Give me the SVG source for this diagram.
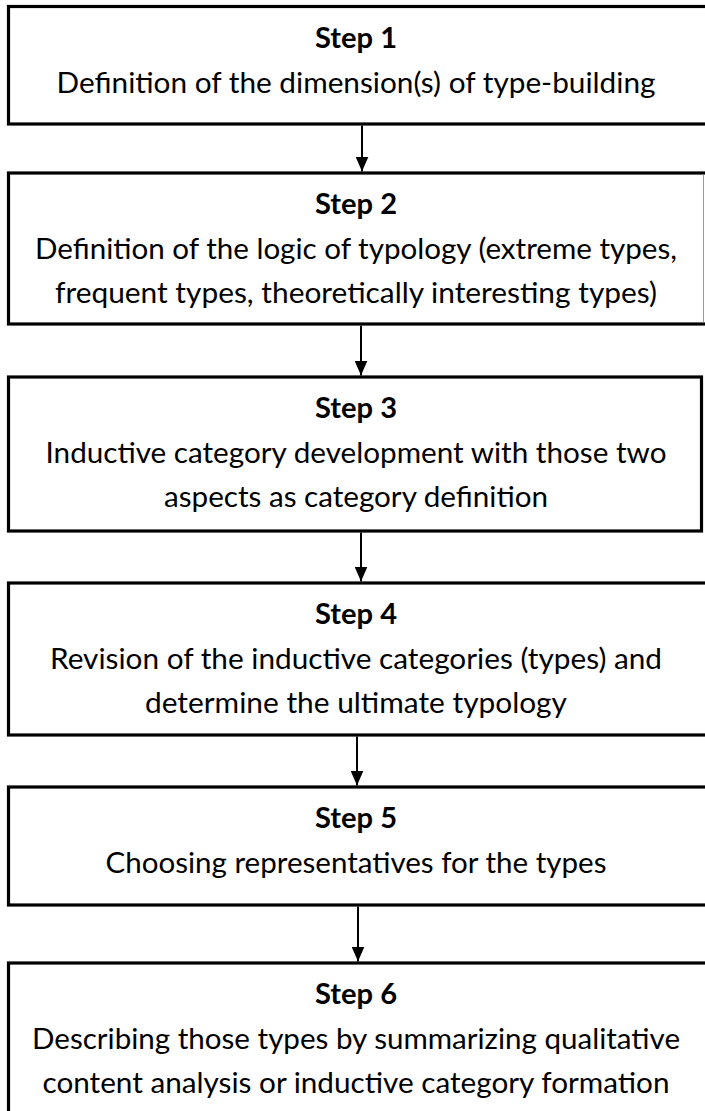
<svg xmlns="http://www.w3.org/2000/svg" width="705" height="1111" viewBox="0 0 705 1111">
  <style>
    .box { fill: #ffffff; stroke: #000000; stroke-width: 3.2; }
    .t { font-family: Lato, "Open Sans", "Liberation Sans", sans-serif; font-size: 29px; fill: #000000; text-anchor: middle; }
    .h { font-weight: bold; }
    .conn { stroke: #000000; stroke-width: 2; fill: none; }
  </style>
  <defs>
    <marker id="arrow" markerUnits="userSpaceOnUse" markerWidth="15" markerHeight="13" refX="15" refY="6.5" orient="auto">
      <path d="M0,0 L15,6.5 L0,13 z" fill="#000000"/>
    </marker>
  </defs>
  <rect width="705" height="1111" fill="#ffffff"/>

  <g id="step1">
    <rect class="box" x="8.5" y="6.5" width="710" height="117.5"/>
    <text class="t h" x="356" y="47.5" textLength="82" lengthAdjust="spacingAndGlyphs">Step 1</text>
    <text class="t" x="356" y="92.5" textLength="599" lengthAdjust="spacingAndGlyphs">Definition of the dimension(s) of type-building</text>
  </g>

  <g id="step2">
    <rect class="box" x="8.5" y="173" width="710" height="151"/>
    <line x1="703.5" y1="174.5" x2="703.5" y2="322.5" stroke="#9a9a9a" stroke-width="1"/>
    <text class="t h" x="356" y="214" textLength="82" lengthAdjust="spacingAndGlyphs">Step 2</text>
    <text class="t" x="356" y="259" textLength="642" lengthAdjust="spacingAndGlyphs">Definition of the logic of typology (extreme types,</text>
    <text class="t" x="356" y="303" textLength="602" lengthAdjust="spacingAndGlyphs">frequent types, theoretically interesting types)</text>
  </g>

  <g id="step3">
    <rect class="box" x="8.5" y="377" width="693" height="154"/>
    <text class="t h" x="356" y="418" textLength="82" lengthAdjust="spacingAndGlyphs">Step 3</text>
    <text class="t" x="356" y="463" textLength="621" lengthAdjust="spacingAndGlyphs">Inductive category development with those two</text>
    <text class="t" x="356" y="507" textLength="384" lengthAdjust="spacingAndGlyphs">aspects as category definition</text>
  </g>

  <g id="step4">
    <rect class="box" x="8.5" y="583" width="710" height="152"/>
    <text class="t h" x="356" y="624" textLength="82" lengthAdjust="spacingAndGlyphs">Step 4</text>
    <text class="t" x="356" y="669" textLength="612" lengthAdjust="spacingAndGlyphs">Revision of the inductive categories (types) and</text>
    <text class="t" x="356" y="713" textLength="422" lengthAdjust="spacingAndGlyphs">determine the ultimate typology</text>
  </g>

  <g id="step5">
    <rect class="box" x="8.5" y="787" width="710" height="118"/>
    <text class="t h" x="356" y="828" textLength="82" lengthAdjust="spacingAndGlyphs">Step 5</text>
    <text class="t" x="356" y="873" textLength="501" lengthAdjust="spacingAndGlyphs">Choosing representatives for the types</text>
  </g>

  <g id="step6">
    <rect class="box" x="8.5" y="963" width="710" height="160"/>
    <text class="t h" x="356" y="1004" textLength="82" lengthAdjust="spacingAndGlyphs">Step 6</text>
    <text class="t" x="356" y="1049" textLength="648" lengthAdjust="spacingAndGlyphs">Describing those types by summarizing qualitative</text>
    <text class="t" x="356" y="1093" textLength="627" lengthAdjust="spacingAndGlyphs">content analysis or inductive category formation</text>
  </g>

  <g id="connectors">
    <line class="conn" x1="362" y1="125.5" x2="362" y2="171.5" marker-end="url(#arrow)"/>
    <line class="conn" x1="361" y1="325.5" x2="361" y2="375.5" marker-end="url(#arrow)"/>
    <line class="conn" x1="361" y1="532.5" x2="361" y2="581.5" marker-end="url(#arrow)"/>
    <line class="conn" x1="357" y1="736.5" x2="357" y2="785.5" marker-end="url(#arrow)"/>
    <line class="conn" x1="358" y1="906.5" x2="358" y2="961.5" marker-end="url(#arrow)"/>
  </g>
</svg>
